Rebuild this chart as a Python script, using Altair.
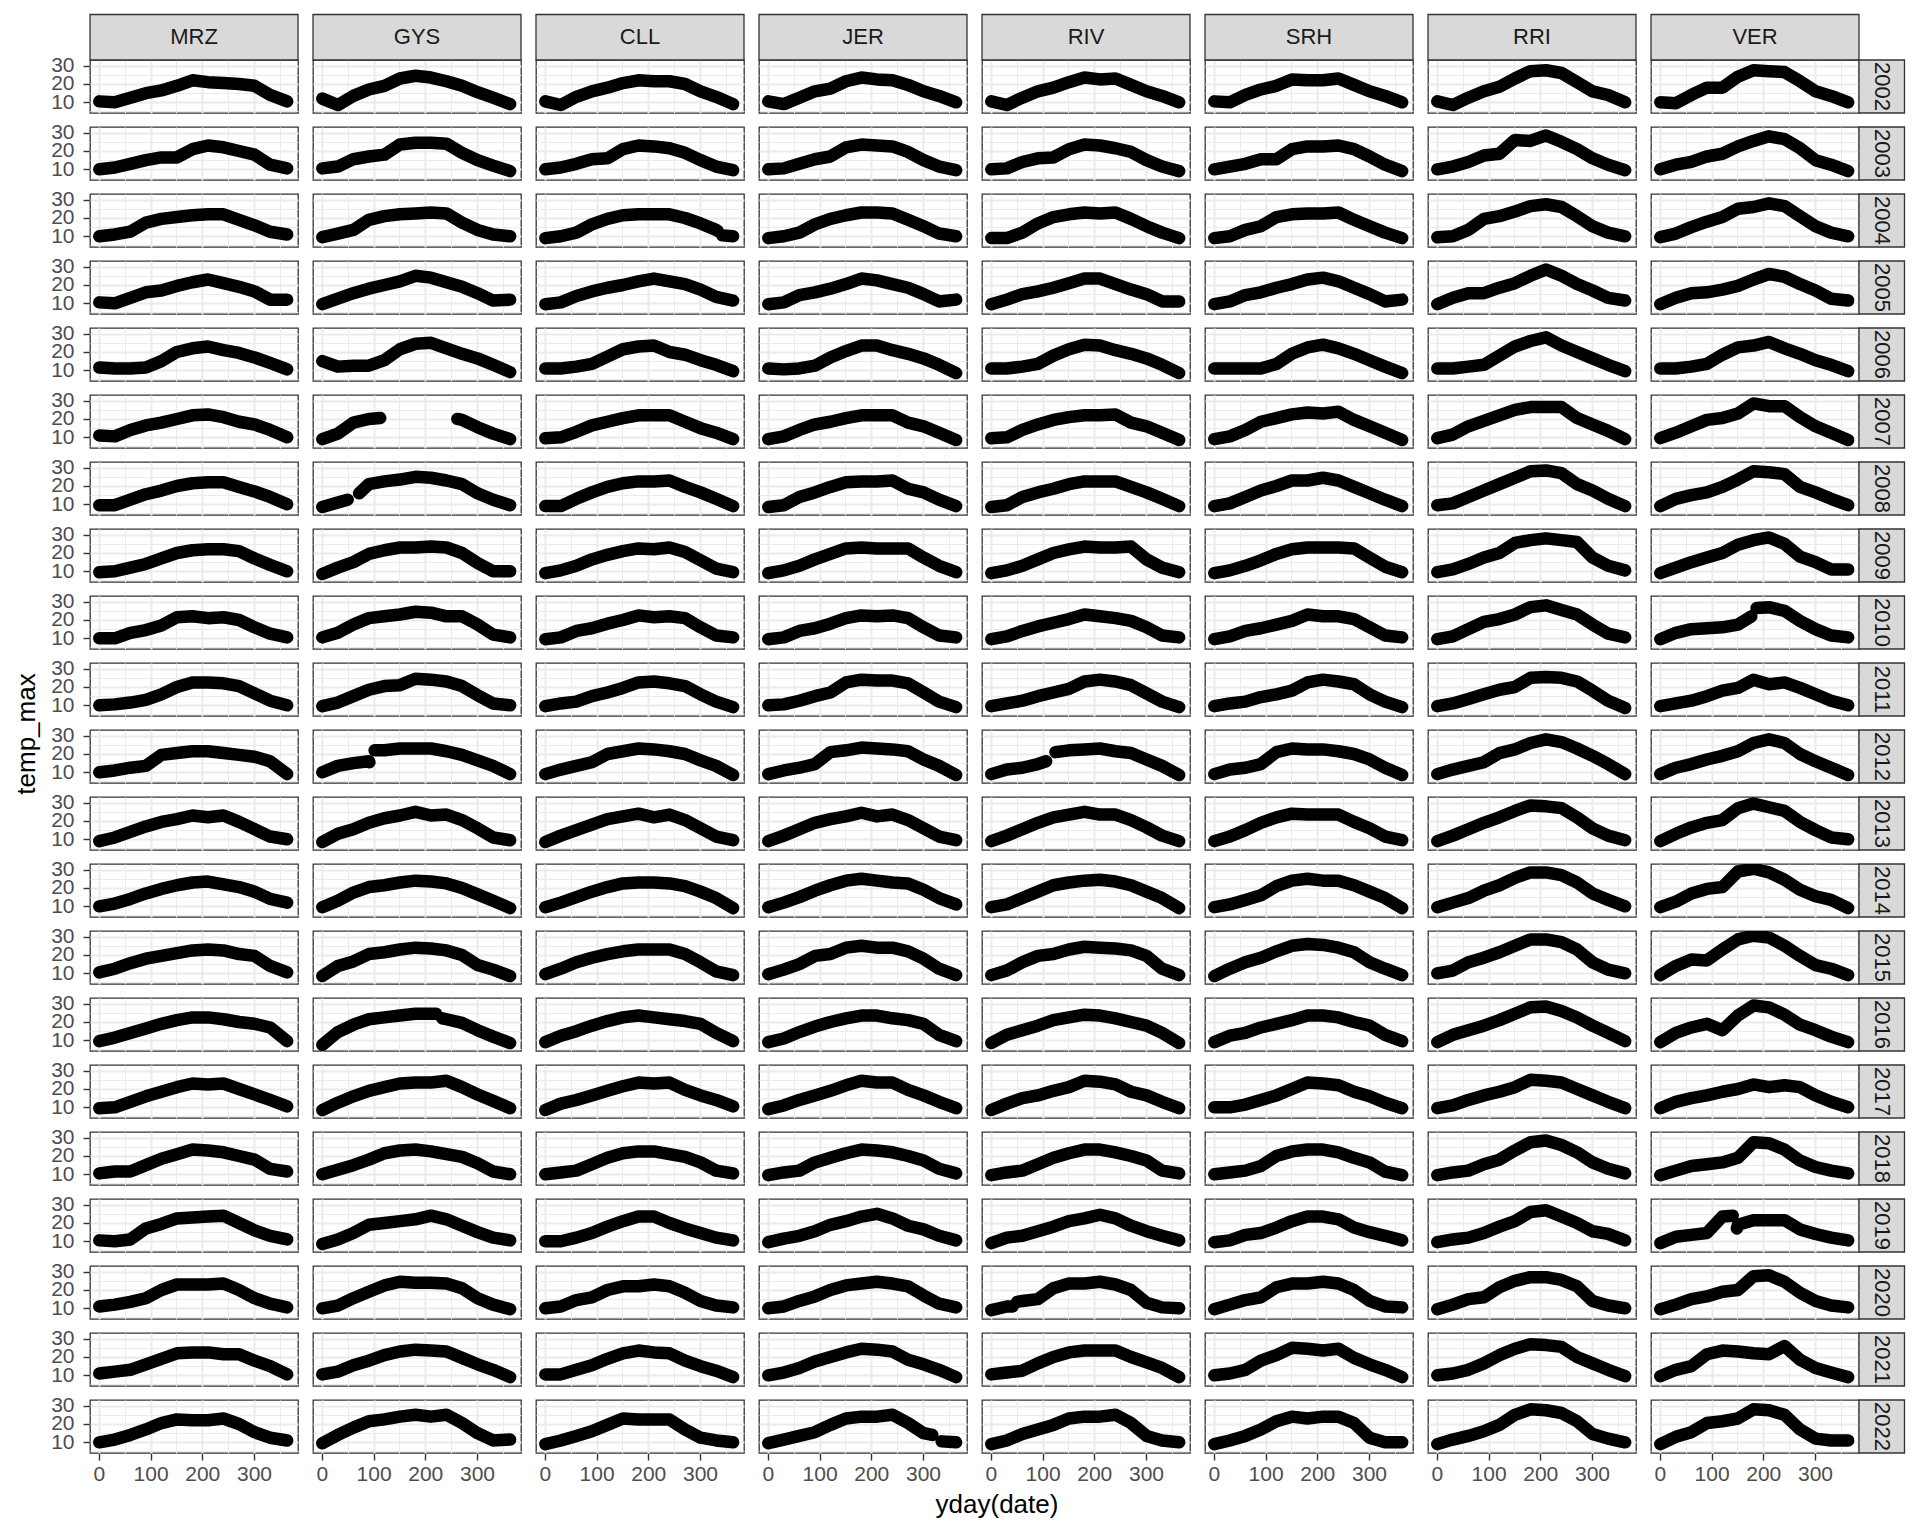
import altair as alt
import pandas as pd

STATIONS = ["MRZ", "GYS", "CLL", "JER", "RIV", "SRH", "RRI", "VER"]
YEARS = list(range(2002, 2023))
DAYS = [1, 31, 61, 91, 121, 151, 181, 211, 241, 271, 301, 331, 364]

MRZ = [
    [10.5, 10, 12.5, 15, 16.5, 19, 22, 21, 20.5, 20, 19, 14, 10.5],
    [10, 11, 13, 15, 16.5, 16.5, 21, 23, 22, 20, 18, 12.5, 10.5],
    [10, 11, 12.5, 17.5, 19.5, 20.5, 21.5, 22, 22, 19, 16, 12.5, 11],
    [10.5, 10, 13, 16, 17, 19.5, 21.5, 23, 21, 19, 16.5, 12, 12],
    [11.5, 11, 11, 11.5, 15, 20, 22, 23, 21, 19.5, 17, 14, 10.5],
    [11, 10.5, 14, 16.5, 18, 20, 22, 22.5, 21, 18.5, 17, 14, 10],
    [9.5, 9.5, 12.5, 15.5, 17.5, 20, 21.5, 22, 22, 19.5, 17, 14, 10],
    [9.5, 10, 12, 14, 17, 20, 21.5, 22, 22, 21, 17, 13.5, 10],
    [10, 10, 13, 14.5, 17, 21.5, 22, 21, 21.5, 20, 16, 12.5, 10.5],
    [10, 10.5, 11.5, 13, 16, 20, 22.5, 22.5, 22, 20.5, 16.5, 12.5, 10],
    [10, 11, 12.5, 13.5, 19.5, 20.5, 21.5, 21.5, 20.5, 19.5, 18.5, 16, 9],
    [9, 11, 14, 17, 19.5, 21, 23, 22, 23, 19.5, 15.5, 11.5, 10],
    [10, 11.5, 14, 17, 19.5, 21.5, 23, 23.5, 22, 20.5, 18, 14, 12],
    [10.5, 12.5, 15.5, 18, 19.5, 21, 22.5, 23, 22.5, 20.5, 19.5, 14, 10.5],
    [9.5, 11.5, 14, 16.5, 19, 21, 22.5, 22.5, 21.5, 20, 19, 17, 9.5],
    [9.5, 10, 13, 16, 18.5, 21, 23, 22.5, 23, 20, 17, 14, 10.5],
    [10.5, 11.5, 11.5, 15, 18.5, 21, 23.5, 23, 22, 20, 18, 13, 11.5],
    [10.5, 10, 11, 17, 19.5, 22.5, 23, 23.5, 24, 20, 16, 13, 11],
    [11, 12, 13.5, 15.5, 20, 23, 23, 23, 23.5, 20, 15.5, 12.5, 10.5],
    [11, 12, 13, 16, 19, 22, 22.5, 22.5, 21.5, 21.5, 18, 15, 10.5],
    [10, 11.5, 14, 17, 20.5, 22.5, 22, 22, 23, 20, 15.5, 12.5, 11],
]

GYS = [
    [12, 8.5, 13.5, 17, 19, 23, 24.5, 23.5, 21.5, 19, 15.5, 12.5, 9],
    [10.5, 11.5, 15.5, 17, 18, 23.5, 24.5, 24.5, 24, 19, 15, 12, 9],
    [9.5, 11.5, 13.5, 19, 21, 22, 22.5, 23, 22.5, 17.5, 13.5, 11, 10],
    [9.5, 12.5, 15.5, 18, 20, 22, 25, 24, 21.5, 19, 15.5, 11.5, 12],
    [15, 12, 12.5, 12.5, 15.5, 21.5, 24.5, 25, 22, 19, 16.5, 13, 9],
    [9, 12, 18, 20, None, None, None, None, None, 19.5, 15.5, 12, 9],
    [8.5, 11, None, 21, 22.5, 23.5, 25, 24.5, 23, 21, 16, 12.5, 9.5],
    [8.5, 12, 15, 19.5, 21.5, 23, 23, 23.5, 23, 20, 14.5, 10, 10],
    [10.5, 13, 17.5, 21, 22, 23, 24.5, 24, 22, 22, 17.5, 12, 10.5],
    [9.5, 11.5, 15, 18.5, 20.5, 21, 24.5, 24, 23, 20.5, 15.5, 11, 10],
    [10, 13.5, 15, 16, 22, 23, 23, 23, 21.5, 19.5, 16.5, 13.5, 9],
    [8.5, 13, 15.5, 19, 21.5, 23, 25, 23, 23.5, 20.5, 16, 11, 9.5],
    [9.5, 13, 17.5, 20.5, 21.5, 23, 24, 23.5, 22.5, 20, 16.5, 13, 9],
    [8.5, 14, 16.5, 20.5, 21.5, 23, 24, 23.5, 22.5, 20, 14.5, 12, 8.5],
    [7.5, 14.5, 18.5, 21.5, 22.5, 23.5, 24.5, 24.5, 21.5, 19.5, 15.5, 12, 8.5],
    [8.5, 12.5, 16, 19, 21, 23, 23.5, 23.5, 24.5, 21, 17, 13.5, 9.5],
    [10, 12.5, 15, 18, 21.5, 23, 23.5, 22.5, 21, 19.5, 16, 11.5, 10],
    [8.5, 11, 14.5, 19, 20, 21, 22, 24, 22, 18.5, 15, 12, 10.5],
    [10, 11.5, 15.5, 19, 22.5, 24.5, 24, 24, 23.5, 21, 15.5, 12, 9.5],
    [10.5, 12, 15.5, 18, 21, 23, 24, 23.5, 23, 19.5, 16, 13, 9],
    [9.5, 14, 18, 21.5, 22.5, 24, 25, 24, 25, 20.5, 15, 11, 11.5],
]

CLL = [
    [10.5, 8.5, 13, 16, 18, 20.5, 22, 21.5, 21.5, 20, 16, 13, 9],
    [10, 11, 13, 15.5, 16, 21, 23, 22.5, 21.5, 19, 15, 11.5, 9.5],
    [9, 10, 12, 16.5, 19.5, 21.5, 22, 22, 22, 20, 17, 13.5, 10],
    [9.5, 10.5, 14, 16.5, 18.5, 20, 22, 23.5, 22, 20.5, 17.5, 13.5, 11.5],
    [11, 11, 12, 13.5, 17.5, 21.5, 23, 23.5, 20, 18.5, 15.5, 13, 9.5],
    [9.5, 10, 13, 16.5, 18.5, 20.5, 22, 22, 22, 18.5, 15, 12.5, 9],
    [9, 9, 13, 16.5, 19.5, 21.5, 22.5, 22.5, 23, 19.5, 16.5, 13, 9],
    [9, 10.5, 13, 16.5, 19, 21, 22.5, 22, 23, 20.5, 16, 11.5, 9.5],
    [9.5, 10.5, 14, 15.5, 18, 20, 22.5, 21.5, 22, 21, 16, 11.5, 10.5],
    [9.5, 11, 12, 15, 17, 19.5, 22.5, 23, 22, 20.5, 16, 12, 9],
    [9, 11.5, 13.5, 15.5, 20, 21.5, 23, 22.5, 21.5, 20, 16.5, 13.5, 8.5],
    [8.5, 12, 15, 18, 21, 22.5, 24, 22, 23.5, 20.5, 16, 11.5, 9.5],
    [9.5, 12, 15, 18, 20.5, 22.5, 23, 23, 22.5, 21, 18, 14.5, 9],
    [9.5, 12.5, 16, 18.5, 20.5, 22, 23, 23, 23, 20.5, 16, 11, 9],
    [9, 12.5, 15, 18, 20.5, 22.5, 23.5, 22.5, 21.5, 20.5, 19, 14, 9.5],
    [8.5, 12, 14, 16.5, 19, 21.5, 23.5, 23, 23.5, 19.5, 16.5, 14, 10.5],
    [10, 11, 12, 15.5, 19, 21.5, 22.5, 22.5, 21, 19.5, 16.5, 12, 10.5],
    [10, 10, 12, 14.5, 18, 21, 23.5, 23.5, 20, 17, 14.5, 12, 10.5],
    [10, 11, 14.5, 16, 20, 22, 22, 23, 22, 18.5, 14, 11.5, 10.5],
    [10.5, 10.5, 13, 15.5, 19, 22, 23.5, 22.5, 22, 18, 15, 12.5, 9],
    [9, 11, 13.5, 16, 19.5, 23, 22.5, 22.5, 22.5, 17, 12.5, 11, 10],
]

JER = [
    [10.5, 9, 12.5, 16, 17.5, 21.5, 23.5, 22.5, 22, 19.5, 16, 13.5, 10],
    [10, 10.5, 13, 15.5, 17, 22, 23.5, 23, 22.5, 19.5, 15, 11.5, 9.5],
    [9, 10, 12, 16.5, 19.5, 21.5, 23, 23, 22.5, 19, 15.5, 11.5, 10],
    [9.5, 10.5, 14.5, 16, 18, 20.5, 23.5, 22.5, 20.5, 18.5, 15, 11, 12],
    [11, 10.5, 11, 12.5, 17, 20.5, 23.5, 23.5, 21, 19, 16.5, 13, 8.5],
    [9, 10.5, 14, 17, 18.5, 20.5, 22, 22, 22, 18, 16, 12.5, 8.5],
    [8.5, 9.5, 14, 16.5, 19.5, 22, 22.5, 22.5, 23, 18.5, 16.5, 12.5, 9],
    [9, 10.5, 13, 16.5, 19.5, 22.5, 23, 22.5, 22.5, 22.5, 17.5, 13, 9.5],
    [9.5, 10.5, 14, 15.5, 18, 21, 22.5, 22, 22.5, 21, 16, 11.5, 10.5],
    [10, 10.5, 12.5, 15, 17, 22.5, 24, 23.5, 23.5, 22, 17, 12, 9],
    [9, 11, 12.5, 14.5, 21, 22, 23.5, 23, 22.5, 21.5, 17, 13.5, 8.5],
    [9, 12, 15.5, 19, 21, 22.5, 24.5, 22.5, 23.5, 20.5, 16, 11.5, 9.5],
    [9.5, 12, 15, 18.5, 21.5, 24, 25, 24, 23, 22.5, 19, 14.5, 11],
    [9.5, 12, 15, 19.5, 20.5, 24, 25, 24, 24, 22, 18, 12.5, 9],
    [9, 11, 14.5, 17.5, 20, 22, 23.5, 23.5, 22, 21, 19, 13, 9.5],
    [9, 11, 14, 16.5, 19, 22, 24.5, 23.5, 23.5, 19.5, 16.5, 13, 9.5],
    [9.5, 11, 12, 16.5, 19, 21.5, 23.5, 23, 22, 20, 17.5, 13, 10.5],
    [9.5, 11.5, 13, 15.5, 19, 21, 23.5, 25, 22.5, 18.5, 16.5, 13, 10.5],
    [10, 11, 14, 16.5, 20, 22.5, 23.5, 24.5, 23.5, 22, 17, 12.5, 10.5],
    [10, 11.5, 14, 17.5, 20, 22.5, 24.5, 24, 23, 18.5, 16, 13, 9],
    [9.5, 11.5, 13.5, 15.5, 19.5, 23, 24, 24, 25, 20.5, 15, None, 10],
]

RIV = [
    [10.5, 8.5, 12.5, 16, 18, 21, 23.5, 22.5, 23, 19.5, 16, 13.5, 10],
    [10, 10.5, 14, 16, 16.5, 21, 23.5, 23, 21.5, 19.5, 15, 11.5, 9],
    [9, 9, 12, 17, 20.5, 22, 23, 22.5, 23, 19.5, 15.5, 12, 9],
    [9.5, 12, 15, 16.5, 18.5, 21, 23.5, 23.5, 20.5, 17.5, 15, 11, 11],
    [11, 11, 12, 13.5, 18, 21.5, 24, 23.5, 21, 19, 16.5, 13, 8.5],
    [9.5, 10, 14, 17, 19.5, 21, 22, 22, 22.5, 18, 16, 12.5, 8.5],
    [8.5, 9.5, 14, 16.5, 18.5, 21, 22.5, 22.5, 22.5, 19.5, 16.5, 13, 9],
    [9, 10.5, 13, 16.5, 20, 22, 23.5, 23, 23, 23.5, 16.5, 12, 9.5],
    [9.5, 11, 14, 16.5, 18.5, 20.5, 23, 22, 21, 19.5, 16, 11.5, 10.5],
    [9.5, 11, 12.5, 15, 17, 19, 23, 24, 23, 21, 16.5, 12, 9],
    [9, 11.5, 12.5, 14.5, None, 22, 22.5, 23, 21.5, 20.5, 17, 13.5, 8.5],
    [9, 12, 15.5, 19, 22, 23.5, 25, 23.5, 23.5, 20.5, 16.5, 12, 9],
    [9.5, 11, 14.5, 18, 21.5, 23, 24, 24.5, 23.5, 21.5, 18, 14.5, 9],
    [9, 11.5, 16, 19.5, 20.5, 23, 24.5, 24, 23.5, 22.5, 19.5, 12.5, 9],
    [8.5, 13, 15.5, 18, 21, 22.5, 24, 23.5, 22, 20, 18, 14, 8.5],
    [8.5, 12, 15, 16.5, 19, 21, 24.5, 24, 22.5, 18.5, 16.5, 13, 9.5],
    [9.5, 11, 12, 15.5, 19, 21.5, 23.5, 23.5, 22, 20, 17.5, 12, 10.5],
    [9, 12, 13, 15.5, 18, 21, 22.5, 24.5, 22.5, 18.5, 15.5, 13, 10.5],
    [9, 11, 14, 15, 21, 23.5, 23.5, 24.5, 23, 20, 13, 10.5, 10],
    [10.5, 11.5, 12.5, 16.5, 20, 22.5, 23.5, 23.5, 23.5, 20, 17, 14, 9],
    [9, 11, 14.5, 17, 19.5, 23, 24, 24, 25, 20.5, 13.5, 11, 10],
]

SRH = [
    [10.5, 10, 14, 17, 19, 22.5, 22, 22, 23, 19.5, 16, 13.5, 10],
    [10, 11.5, 13, 15.5, 15.5, 21, 22.5, 22.5, 23, 21, 17, 12.5, 9],
    [9, 10, 13.5, 15.5, 20.5, 22, 22.5, 22.5, 23, 19, 15.5, 12, 9],
    [9.5, 11, 14.5, 16, 18.5, 20.5, 23, 24, 22, 18.5, 15, 11, 12],
    [11, 11, 11, 11, 13.5, 19, 22.5, 24, 22, 19, 15.5, 12, 8.5],
    [9, 10.5, 14, 18.5, 20.5, 22.5, 23.5, 23, 24, 19.5, 16, 12.5, 8.5],
    [9, 10.5, 14, 17.5, 20, 23, 23, 24.5, 23, 19.5, 16, 12.5, 9],
    [9, 10.5, 13, 16, 19.5, 22, 23, 23, 23, 22.5, 17.5, 12.5, 9.5],
    [9.5, 11, 14, 15.5, 17.5, 19.5, 23, 22, 22, 20.5, 16, 11.5, 10.5],
    [9.5, 11, 12, 14.5, 16, 18, 22.5, 24, 23, 21.5, 16, 12, 9],
    [9, 11.5, 12.5, 14.5, 21, 23, 22.5, 22.5, 21.5, 20, 17, 12.5, 8.5],
    [9, 11.5, 15, 19, 22, 24, 23.5, 23.5, 23.5, 19.5, 16, 11.5, 9.5],
    [9.5, 11, 13.5, 16, 21, 24, 25, 24, 24, 21.5, 18, 14.5, 9],
    [8.5, 12.5, 16, 18.5, 22, 25, 26, 25.5, 24, 21.5, 16, 12.5, 9],
    [9, 12.5, 14, 17, 19, 21, 23.5, 23.5, 22.5, 20, 18, 13, 9.5],
    [10, 10, 11.5, 14, 16.5, 20, 23.5, 23, 22, 18.5, 16, 12.5, 9.5],
    [10, 11, 12, 14.5, 20, 22.5, 23.5, 23.5, 22, 19, 16.5, 11.5, 9.5],
    [9.5, 10.5, 13.5, 14.5, 17.5, 21, 23.5, 23.5, 22, 17.5, 15, 13, 10.5],
    [9.5, 12, 14.5, 16, 21.5, 23.5, 23.5, 24.5, 23.5, 20, 14, 11, 10.5],
    [10, 11, 13, 18, 21, 25, 24.5, 23.5, 24.5, 19.5, 16, 13, 9],
    [9, 11, 13.5, 17, 21.5, 24, 23, 24, 24, 20.5, 12.5, 10, 10],
]

RRI = [
    [10.5, 8.5, 12.5, 16, 18.5, 23, 27, 27.5, 26, 21, 16, 14, 10],
    [10, 11.5, 14, 17.5, 18.5, 26, 25.5, 28.5, 25, 21, 16, 12.5, 9.5],
    [9.5, 10, 13.5, 19.5, 21, 23.5, 26.5, 27.5, 26, 21, 15.5, 12, 10],
    [9.5, 13, 15.5, 15.5, 18.5, 21, 25, 28.5, 25, 20.5, 17, 13, 11.5],
    [11, 11, 12, 13, 18, 23, 26, 28, 23.5, 20, 16.5, 13, 9.5],
    [9.5, 11.5, 16, 19, 22, 25, 26.5, 26.5, 26.5, 20.5, 17, 13.5, 9],
    [9.5, 10.5, 14, 17.5, 21, 24.5, 28, 28.5, 27, 21, 17.5, 13, 9],
    [9.5, 11, 14, 17.5, 20, 25.5, 27, 28, 27, 26, 17.5, 13, 10.5],
    [9.5, 11, 15, 19, 20.5, 23, 27, 28, 25.5, 23, 17.5, 12.5, 10.5],
    [9.5, 11, 13.5, 16, 18.5, 20, 25, 25.5, 25, 23, 18, 12.5, 8.5],
    [9, 11.5, 13.5, 15.5, 20.5, 22.5, 26, 28, 26.5, 23, 19, 14.5, 9],
    [9, 12, 15.5, 19, 22, 25.5, 28.5, 28, 27, 22, 16, 12, 9.5],
    [9.5, 12, 14.5, 18.5, 21.5, 25.5, 28.5, 28.5, 27, 23, 17, 13.5, 10],
    [10, 11.5, 16, 18.5, 21.5, 25, 28.5, 28.5, 27, 23, 16, 12, 10],
    [9, 13, 15.5, 18, 21, 24.5, 28, 28.5, 26, 22.5, 18, 14, 9.5],
    [9.5, 11, 14, 16.5, 18.5, 21, 25, 24.5, 23.5, 20, 16.5, 13, 9.5],
    [9.5, 11, 12, 15.5, 18, 23, 27.5, 28.5, 26, 22, 16.5, 13, 10.5],
    [9.5, 11, 12, 14.5, 18, 21, 26, 27, 23.5, 20, 15.5, 14, 10.5],
    [9.5, 12, 15, 16, 21.5, 25, 27, 27, 25.5, 22, 14, 11.5, 10],
    [10, 11, 13, 16.5, 21, 24.5, 27, 26.5, 25.5, 20, 16.5, 13, 9.5],
    [9, 11.5, 13.5, 16, 19.5, 25, 28, 27.5, 26, 21.5, 14.5, 12, 10],
]

VER = [
    [10, 9.5, 14, 18, 18, 24, 27.5, 27, 26.5, 21.5, 16, 13.5, 10],
    [10, 12.5, 14, 17, 18.5, 22.5, 25.5, 28, 26.5, 21.5, 15, 12.5, 9],
    [9.5, 11.5, 15, 18, 20.5, 25, 26, 28, 26.5, 21, 15.5, 12, 10],
    [9.5, 13, 15.5, 16, 17.5, 19.5, 23, 26, 24.5, 20.5, 17, 12.5, 11.5],
    [11, 11, 12, 13.5, 18.5, 22.5, 23.5, 25.5, 22, 19, 15.5, 13, 9.5],
    [9.5, 12.5, 16, 19.5, 20.5, 23, 28.5, 27, 27, 21, 16, 12.5, 8.5],
    [9, 13, 15, 16.5, 19.5, 23.5, 28, 27.5, 26.5, 19.5, 16.5, 13, 9.5],
    [9, 12, 15, 17.5, 20, 24.5, 27, 28.5, 25, 18, 15, 11, 11],
    [9.5, 13, 15, 15.5, 16, 17.5, None, 27, 25, 19.5, 15, 11.5, 10.5],
    [9.5, 11, 12.5, 15, 18, 19.5, 24, 21.5, 22.5, 19.5, 16, 12.5, 10],
    [9, 12.5, 14.5, 17, 19, 21.5, 26, 28, 26, 20, 16, 12.5, 8.5],
    [9, 13, 16.5, 19, 20.5, 27, 29.5, 27.5, 25.5, 19.5, 15, 11, 10],
    [9.5, 12.5, 17, 19.5, 20.5, 29, 30.5, 28.5, 24.5, 19, 15.5, 13.5, 9],
    [9, 14, 17.5, 17, 23, 28.5, 30.5, 29.5, 25, 19.5, 14.5, 12.5, 9],
    [9, 14, 17, 19, 15.5, 23.5, 29, 28, 24, 18.5, 15.5, 12, 9],
    [9.5, 13, 15, 16.5, 18.5, 20, 22.5, 21, 22, 21, 16.5, 13, 10],
    [9.5, 12, 14.5, 15.5, 16.5, 19, 27.5, 27, 23.5, 17.5, 14, 12, 10.5],
    [9, 12.5, 13.5, 14.5, 23.5, 19, 21.5, 21.5, 21.5, 16.5, 14, 12, 10.5],
    [9.5, 12, 15, 16.5, 19, 20, 27.5, 28, 24.5, 18.5, 14, 11.5, 10.5],
    [9.5, 13, 15, 21.5, 23.5, 23, 22, 21.5, 26, 18.5, 14, 11.5, 9],
    [9, 13, 15.5, 20.5, 21.5, 23, 28, 27.5, 25, 17, 12, 11, 11],
]

# gaps in the record (day ranges with no data) and the values read at their edges
GAPS = {
    ("GYS", 2007): (114, 261), ("GYS", 2008): (51, 71), ("GYS", 2012): (93, 101),
    ("GYS", 2016): (222, 232), ("CLL", 2004): (335, 342), ("JER", 2022): (319, 335),
    ("RIV", 2012): (108, 124), ("RIV", 2020): (43, 50), ("VER", 2010): (178, 186),
    ("VER", 2019): (142, 148),
}
GAP_EDGES = {
    ("GYS", 2007): [(113, 20.5), (262, 20)], ("GYS", 2008): [(50, 12.5), (72, 16)],
    ("GYS", 2012): [(92, 15.5), (102, 22)], ("GYS", 2016): [(221, 24.5), (233, 22)],
    ("CLL", 2004): [(334, 13), (343, 10.5)], ("JER", 2022): [(318, 14), (336, 10.5)],
    ("RIV", 2012): [(107, 16), (125, 21)], ("RIV", 2020): [(42, 11), (51, 13.5)],
    ("VER", 2010): [(177, 22), (187, 26.5)], ("VER", 2019): [(141, 24), (149, 17)],
}

TABLES = dict(MRZ=MRZ, GYS=GYS, CLL=CLL, JER=JER, RIV=RIV, SRH=SRH, RRI=RRI, VER=VER)

rows = []
for st in STATIONS:
    for yr, vals in zip(YEARS, TABLES[st]):
        pts = [(d, v) for d, v in zip(DAYS, vals) if v is not None]
        pts += GAP_EDGES.get((st, yr), [])
        gap = GAPS.get((st, yr))
        if gap:
            pts = [(d, v) for d, v in pts if not (gap[0] <= d <= gap[1])]
        pts.sort()
        for i, (d, v) in enumerate(pts):
            seg = 0 if (gap is None or d < gap[0]) else 1
            rows.append(dict(station=st, year=yr, day=d, temp=v, seg=seg, first=(i == 0)))
df = pd.DataFrame(rows)

FONT = "Liberation Sans"
W, H = 208, 53
STRIP = 45.5
X_GRID = [0, 50, 100, 150, 200, 250, 300, 350]
Y_GRID = [5, 10, 15, 20, 25, 30]

x_axis = alt.Axis(
    values=X_GRID,
    labelExpr="datum.value % 100 === 0 ? datum.label : ''",
    labelOverlap=False, labelFlush=False, labelPadding=3,
    gridWidth={"condition": {"test": "datum.value % 100 === 0", "value": 2.0}, "value": 1.0},
    tickOpacity={"condition": {"test": "datum.value % 100 === 0", "value": 1}, "value": 0},
)
y_axis = alt.Axis(
    values=Y_GRID,
    labelExpr="datum.value % 10 === 0 ? datum.label : ''",
    labelOverlap=False, labelFlush=False, labelPadding=9,
    gridWidth={"condition": {"test": "datum.value % 10 === 0", "value": 2.0}, "value": 1.0},
    tickOpacity={"condition": {"test": "datum.value % 10 === 0", "value": 1}, "value": 0},
)

lines = alt.Chart().mark_line(
    color="black", strokeWidth=12.5, strokeCap="round", strokeJoin="round", clip=True
).encode(
    x=alt.X("day:Q", title=None, scale=alt.Scale(domain=[-17, 385], nice=False, zero=False), axis=x_axis),
    y=alt.Y("temp:Q", title=None, scale=alt.Scale(domain=[4.15, 33.1], nice=False, zero=False), axis=y_axis),
    detail="seg:N",
)

top_rect = alt.Chart().transform_filter("datum.year === 2002 && datum.first").mark_rect(
    fill="#D9D9D9", stroke="#333333", strokeWidth=1.3
).encode(x=alt.value(0), x2=alt.value(W), y=alt.value(-STRIP), y2=alt.value(0))

top_text = alt.Chart().transform_filter("datum.year === 2002 && datum.first").mark_text(
    font=FONT, fontSize=22, color="#1A1A1A", baseline="middle", align="center"
).encode(x=alt.value(W / 2), y=alt.value(-STRIP / 2), text="station:N")

right_rect = alt.Chart().transform_filter("datum.station === 'VER' && datum.first").mark_rect(
    fill="#D9D9D9", stroke="#333333", strokeWidth=1.3
).encode(x=alt.value(W), x2=alt.value(W + STRIP), y=alt.value(0), y2=alt.value(H))

right_text = alt.Chart().transform_filter("datum.station === 'VER' && datum.first").mark_text(
    font=FONT, fontSize=22, color="#1A1A1A", baseline="middle", align="center", angle=90
).encode(x=alt.value(W + STRIP / 2), y=alt.value(H / 2), text="year:O")

panel = alt.layer(lines, top_rect, top_text, right_rect, right_text, data=df).properties(width=W, height=H)

chart = panel.facet(
    row=alt.Row("year:O", header=alt.Header(
        labels=False, title="temp_max", titleOrient="left", titleFont=FONT,
        titleFontSize=26, titleColor="black", titleFontWeight="normal", titlePadding=0)),
    column=alt.Column("station:N", sort=STATIONS, header=alt.Header(
        labels=False, title="yday(date)", titleOrient="bottom", titleFont=FONT,
        titleFontSize=26, titleColor="black", titleFontWeight="normal", titlePadding=-2)),
    spacing={"row": 14, "column": 15},
).properties(
    bounds="flush",
    padding={"left": 13, "top": 13, "right": 5, "bottom": 5},
    background="white",
).configure_view(
    stroke="#333333", strokeWidth=1.3
).configure_axis(
    labelFont=FONT, labelFontSize=21, labelColor="#4D4D4D",
    tickColor="#333333", tickWidth=1.4, tickSize=7, domain=False, gridColor="#EBEBEB",
)

chart.save("out.html", embed_options={"renderer": "svg", "actions": False})
